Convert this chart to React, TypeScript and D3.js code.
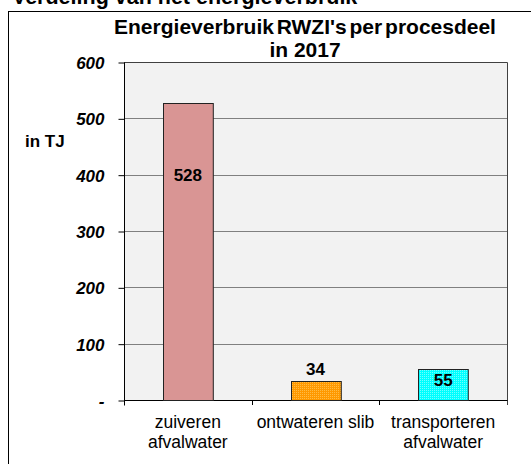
import { useEffect, useRef } from "react";
import * as d3 from "d3";

const categories = [["zuiveren", "afvalwater"], ["ontwateren slib"], ["transporteren", "afvalwater"]];
const values = [528, 34, 55];
const yTicks = [0, 100, 200, 300, 400, 500, 600];

const W = 531;
const H = 464;
const FONT = "'Liberation Sans', Arial, sans-serif";

const App = () => {
  const ref = useRef<SVGSVGElement | null>(null);

  useEffect(() => {
    if (!ref.current) return;
    const svg = d3.select(ref.current);
    svg.selectAll("*").remove();

    const left = 124, right = 507, top = 62, bottom = 400;

    const x = d3.scaleBand<number>().domain(d3.range(values.length)).range([left, right]);
    const y = d3.scaleLinear().domain([0, 600]).range([bottom, top]);
    const barW = x.bandwidth() * 0.39;

    const defs = svg.append("defs");
    const pat = (id: string, base: string, dot: string) => {
      const p = defs.append("pattern").attr("id", id).attr("width", 2).attr("height", 2).attr("patternUnits", "userSpaceOnUse");
      p.append("rect").attr("width", 2).attr("height", 2).attr("fill", base);
      p.append("rect").attr("width", 1).attr("height", 1).attr("fill", dot);
    };
    pat("dotOrange", "#ff9900", "#ffbb44");
    pat("dotCyan", "#00ffff", "#70ffff");
    const fills = ["#d99594", "url(#dotOrange)", "url(#dotCyan)"];

    // top heading (cut off by the page edge)
    svg.append("text").attr("x", 12).attr("y", 3.5).attr("font-family", FONT).attr("font-weight", "bold")
      .attr("font-size", 21.5).text("Verdeling van het energieverbruik");

    // frame
    svg.append("rect").attr("x", 8.5).attr("y", 11.5).attr("width", W).attr("height", H)
      .attr("fill", "white").attr("stroke", "#000");

    // title
    const title = svg.append("text").attr("font-family", FONT).attr("font-weight", "bold")
      .attr("font-size", 21).attr("text-anchor", "middle");
    title.append("tspan").attr("x", 305).attr("y", 34).attr("word-spacing", -3).text("Energieverbruik RWZI's per procesdeel");
    title.append("tspan").attr("x", 305).attr("y", 57).text("in 2017");

    // plot background
    svg.append("rect").attr("x", left).attr("y", top).attr("width", right - left).attr("height", bottom - top)
      .attr("fill", "#f2f2f2");

    // gridlines
    svg.append("g").selectAll("line").data(yTicks.filter((d) => d > 0)).join("line")
      .attr("x1", left).attr("x2", right)
      .attr("y1", (d) => Math.round(y(d)) + 0.5).attr("y2", (d) => Math.round(y(d)) + 0.5)
      .attr("stroke", "#808080");

    // plot border top/right
    svg.append("path")
      .attr("d", `M${left},${top + 0.5}H${right + 0.5}V${bottom + 5}`)
      .attr("fill", "none").attr("stroke", "#404040");

    // y axis
    const yAxis = svg.append("g").attr("transform", `translate(${left + 0.5},0.5)`)
      .call(d3.axisLeft(y).tickValues(yTicks).tickSize(6).tickFormat((d) => (+d === 0 ? "-" : String(d))));
    yAxis.select(".domain").attr("d", `M0,${top}V${bottom + 5}`).attr("stroke", "#000");
    yAxis.selectAll(".tick line").attr("stroke", "#000");
    yAxis.selectAll(".tick text").attr("x", -20).attr("dy", "0.36em")
      .attr("font-family", FONT).attr("font-size", 17).attr("font-weight", "bold")
      .attr("font-style", "italic").attr("fill", "#000");

    svg.append("text").attr("x", 25).attr("y", 147).attr("font-family", FONT).attr("font-weight", "bold")
      .attr("font-size", 17).text("in TJ");

    // x axis
    svg.append("line").attr("x1", left).attr("x2", right + 0.5)
      .attr("y1", bottom + 0.5).attr("y2", bottom + 0.5).attr("stroke", "#000");
    svg.append("g").selectAll("line").data(d3.range(1, values.length)).join("line")
      .attr("x1", (d) => Math.round(x(d)!) + 0.5).attr("x2", (d) => Math.round(x(d)!) + 0.5)
      .attr("y1", bottom).attr("y2", bottom + 5).attr("stroke", "#000");

    // bars
    svg.append("g").selectAll("rect").data(values).join("rect")
      .attr("x", (_, i) => Math.round(x(i)! + (x.bandwidth() - barW) / 2) + 0.5)
      .attr("y", (d) => Math.round(y(d)) + 0.5)
      .attr("width", barW)
      .attr("height", (d) => bottom - Math.round(y(d)))
      .attr("fill", (_, i) => fills[i])
      .attr("stroke", "#222");

    // value labels
    const labelY = [(v: number) => y(v) + 78, (v: number) => y(v) - 6, (v: number) => y(v) + 17];
    svg.append("g").selectAll("text").data(values).join("text")
      .attr("x", (_, i) => x(i)! + x.bandwidth() / 2)
      .attr("y", (d, i) => labelY[i](d))
      .attr("text-anchor", "middle").attr("font-family", FONT).attr("font-weight", "bold")
      .attr("font-size", 17).text((d) => d);

    // category labels
    const cat = svg.append("g").selectAll("text").data(categories).join("text")
      .attr("text-anchor", "middle").attr("font-family", FONT).attr("font-size", 17.5).attr("fill", "#000");
    cat.each(function (lines, i) {
      d3.select(this).selectAll("tspan").data(lines).join("tspan")
        .attr("x", x(i)! + x.bandwidth() / 2)
        .attr("y", (_, j) => 428 + j * 20)
        .text((t) => t);
    });
  }, []);

  return (
    <svg ref={ref} width={W} height={H} style={{ position: "absolute", left: 0, top: 0 }}></svg>
  );
};

export default App;
